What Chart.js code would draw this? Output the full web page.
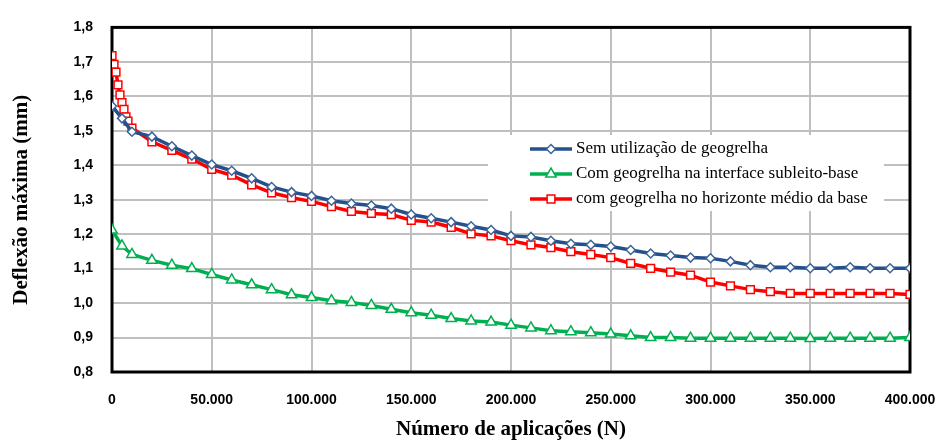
<!DOCTYPE html>
<html>
<head>
<meta charset="utf-8">
<script src="https://cdn.jsdelivr.net/npm/chart.js@4.4.1/dist/chart.umd.min.js"></script>
<style>
    html, body { margin: 0; padding: 0; background: #fff; }
    #wrap { width: 940px; height: 442px; }
</style>
</head>
<body>
<div id="wrap"><canvas id="deflexaoChart"></canvas></div>
<script>
// Número de aplicações (N) - eixo x
const aplicacoes = [0, 1000, 2000, 3000, 4000, 5000, 6000, 7000, 8000, 10000,
    20000, 30000, 40000, 50000, 60000, 70000, 80000, 90000, 100000,
    110000, 120000, 130000, 140000, 150000, 160000, 170000, 180000, 190000, 200000,
    210000, 220000, 230000, 240000, 250000, 260000, 270000, 280000, 290000, 300000,
    310000, 320000, 330000, 340000, 350000, 360000, 370000, 380000, 390000, 400000];

// Deflexão máxima (mm) por série (null = sem ponto)
const semGeogrelha = [1.572, null, null, null, null, 1.536, null, null, null, 1.497,
    1.483, 1.455, 1.428, 1.402, 1.384, 1.362, 1.337, 1.322, 1.311,
    1.297, 1.289, 1.283, 1.274, 1.257, 1.246, 1.235, 1.223, 1.212, 1.195,
    1.192, 1.181, 1.172, 1.169, 1.164, 1.154, 1.144, 1.138, 1.132, 1.130,
    1.121, 1.110, 1.104, 1.104, 1.101, 1.101, 1.104, 1.101, 1.101, 1.101];

const geogrelhaInterface = [1.212, null, null, null, null, 1.166, null, null, null, 1.141,
    1.124, 1.110, 1.100, 1.083, 1.067, 1.053, 1.039, 1.024, 1.016,
    1.007, 1.002, 0.993, 0.982, 0.972, 0.965, 0.955, 0.948, 0.945, 0.936,
    0.928, 0.920, 0.917, 0.914, 0.910, 0.905, 0.900, 0.900, 0.898, 0.898,
    0.898, 0.898, 0.898, 0.898, 0.897, 0.898, 0.898, 0.898, 0.898, 0.900];

const geogrelhaMedio = [1.718, 1.693, 1.670, 1.633, 1.604, 1.582, 1.562, 1.540, 1.528, 1.508,
    1.468, 1.443, 1.418, 1.388, 1.371, 1.343, 1.320, 1.306, 1.295,
    1.280, 1.266, 1.260, 1.257, 1.240, 1.235, 1.220, 1.201, 1.195, 1.181,
    1.169, 1.161, 1.149, 1.141, 1.132, 1.115, 1.101, 1.090, 1.081, 1.061,
    1.050, 1.039, 1.033, 1.028, 1.028, 1.028, 1.028, 1.028, 1.028, 1.025];

const nomesSeries = [
    'Sem utilização de geogrelha',
    'Com geogrelha na interface subleito-base',
    'com geogrelha no horizonte médio da base'
];

// monta pares {x, y} sem os pontos vazios
function pontos(valores) {
    const out = [];
    for (let i = 0; i < aplicacoes.length; i++) {
        if (valores[i] !== null) out.push({ x: aplicacoes[i], y: valores[i] });
    }
    return out;
}

function milhar(v) {
    return String(v).replace(/\B(?=(\d{3})+(?!\d))/g, '.');
}

const tickFont = { family: "'Liberation Sans', Arial, sans-serif", size: 14, weight: 'bold' };
const titleFont = { family: "'Liberation Serif', 'Times New Roman', serif", size: 21, weight: 'bold' };

// moldura preta em volta da área do gráfico
const moldura = {
    id: 'moldura',
    beforeDatasetsDraw(chart) {
        const { ctx, chartArea: a } = chart;
        ctx.save();
        ctx.strokeStyle = '#000';
        ctx.lineWidth = 3;
        ctx.strokeRect(a.left, a.top, a.right - a.left, a.bottom - a.top);
        ctx.restore();
    }
};

// legenda dentro da área do gráfico
const legenda = {
    id: 'legenda',
    afterDraw(chart) {
        const ctx = chart.ctx;
        ctx.save();
        ctx.fillStyle = '#fff';
        ctx.fillRect(488, 135, 396, 76);
        chart.data.datasets.forEach(function(ds, i) {
            const y = 149 + i * 25;
            ctx.strokeStyle = ds.borderColor;
            ctx.lineWidth = ds.borderWidth;
            ctx.beginPath();
            ctx.moveTo(530, y);
            ctx.lineTo(572, y);
            ctx.stroke();
            ctx.fillStyle = '#fff';
            ctx.strokeStyle = ds.pointBorderColor;
            ctx.lineWidth = ds.pointBorderWidth;
            Chart.helpers.drawPoint(ctx, {
                pointStyle: ds.pointStyle,
                radius: ds.pointRadius,
                borderWidth: ds.pointBorderWidth,
                rotation: 0
            }, 551, y);
            ctx.fillStyle = '#000';
            ctx.font = "17px 'Liberation Serif', 'Times New Roman', serif";
            ctx.textBaseline = 'middle';
            ctx.fillText(ds.label, 576, y);
        });
        ctx.restore();
    }
};

const ctx = document.getElementById('deflexaoChart').getContext('2d');
const deflexaoChart = new Chart(ctx, {
    type: 'line',
    data: {
        datasets: [{
            label: nomesSeries[0],
            data: pontos(semGeogrelha),
            borderColor: '#24508C',
            borderWidth: 3.5,
            pointStyle: 'rectRot',
            pointRadius: 4.5,
            pointBorderWidth: 1.5,
            pointBackgroundColor: '#fff',
            pointBorderColor: '#3C6499'
        }, {
            label: nomesSeries[1],
            data: pontos(geogrelhaInterface),
            borderColor: '#00B050',
            borderWidth: 3.5,
            pointStyle: 'triangle',
            pointRadius: 6,
            pointBorderWidth: 1.5,
            pointBackgroundColor: '#fff',
            pointBorderColor: '#00B050'
        }, {
            label: nomesSeries[2],
            data: pontos(geogrelhaMedio),
            borderColor: '#FF0000',
            borderWidth: 3.5,
            pointStyle: 'rect',
            pointRadius: 5.5,
            pointBorderWidth: 1.5,
            pointBackgroundColor: '#fff',
            pointBorderColor: '#FF0000'
        }]
    },
    options: {
        responsive: true,
        maintainAspectRatio: false,
        animation: false,
        layout: { padding: { top: 20, right: 30, left: 0, bottom: 0 } },
        plugins: {
            legend: { display: false },
            tooltip: { enabled: false }
        },
        elements: { line: { tension: 0 } },
        scales: {
            x: {
                type: 'linear',
                min: 0,
                max: 400000,
                afterFit: function(scale) {
                    scale.height = 70;
                    scale.paddingLeft = 0;
                    scale.paddingRight = 0;
                },
                ticks: {
                    stepSize: 50000,
                    color: '#000',
                    font: tickFont,
                    padding: 20,
                    maxRotation: 0,
                    callback: function(v) { return milhar(v); }
                },
                grid: { color: '#BFBFBF', lineWidth: 2, drawTicks: false },
                border: { display: false },
                title: {
                    display: true,
                    text: 'Número de aplicações (N)',
                    color: '#000',
                    font: titleFont,
                    padding: { top: 4, bottom: 0 }
                }
            },
            y: {
                min: 0.8,
                max: 1.8,
                afterFit: function(scale) { scale.width = 112; },
                ticks: {
                    stepSize: 0.1,
                    color: '#000',
                    font: tickFont,
                    padding: 19,
                    callback: function(v) { return v.toFixed(1).replace('.', ','); }
                },
                grid: { color: '#BFBFBF', lineWidth: 2, drawTicks: false },
                border: { display: false },
                title: {
                    display: true,
                    text: 'Deflexão máxima (mm)',
                    color: '#000',
                    font: titleFont,
                    padding: { top: 9, bottom: 4 }
                }
            }
        }
    },
    plugins: [moldura, legenda]
});
</script>
</body>
</html>
